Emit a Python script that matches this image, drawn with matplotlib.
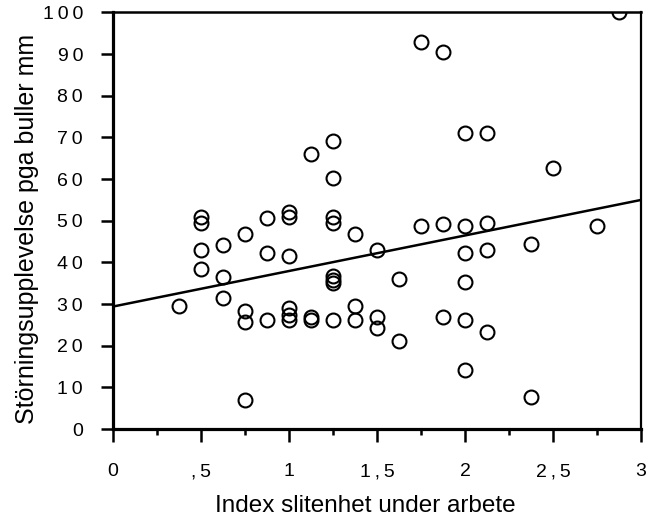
import matplotlib
matplotlib.use("Agg")
import matplotlib.pyplot as plt
import numpy as np

plt.rcParams['font.family'] = ['Liberation Sans', 'DejaVu Sans']

# index slitenhet (x) och störningsupplevelse (y)
x_vals = [0.375,
          0.5, 0.5, 0.5, 0.5,
          0.625, 0.625, 0.625,
          0.75, 0.75, 0.75, 0.75,
          0.875, 0.875, 0.875,
          1.0, 1.0, 1.0, 1.0, 1.0, 1.0,
          1.125, 1.125, 1.125,
          1.25, 1.25, 1.25, 1.25, 1.25, 1.25, 1.25, 1.25,
          1.375, 1.375, 1.375,
          1.5, 1.5, 1.5,
          1.625, 1.625,
          1.75, 1.75,
          1.875, 1.875, 1.875,
          2.0, 2.0, 2.0, 2.0, 2.0, 2.0,
          2.125, 2.125, 2.125, 2.125,
          2.375, 2.375,
          2.5,
          2.75,
          2.875]
y_vals = [29.5,
          50.8, 49.5, 43.0, 38.4,
          44.2, 36.6, 31.4,
          46.7, 28.3, 25.6, 7.0,
          50.6, 42.3, 26.2,
          52.2, 51.0, 41.6, 29.0, 27.4, 26.2,
          66.0, 27.0, 26.2,
          69.1, 60.2, 51.0, 49.5, 36.7, 35.8, 35.1, 26.2,
          46.7, 29.5, 26.2,
          43.0, 27.0, 24.3,
          35.9, 21.2,
          93.0, 48.7,
          90.4, 49.2, 27.0,
          71.0, 48.7, 42.3, 35.2, 26.2, 14.2,
          71.0, 49.4, 43.0, 23.2,
          44.3, 7.8,
          62.6,
          48.7,
          100.0]

# regressionslinje
intercept = 29.4
slope = 8.53

x_ticks = [0, 0.5, 1, 1.5, 2, 2.5, 3]
x_ticklabels = ["0", ",5", "1", "1,5", "2", "2,5", "3"]
y_ticks = list(range(0, 101, 10))

# glest teckenavstånd som i originalet
sp = "\u2009"
x_ticklabels = [sp.join(t) for t in x_ticklabels]
y_ticklabels = [sp.join(str(v)) for v in y_ticks]

fig = plt.figure(figsize=(6.47, 5.19), dpi=100)
ax = fig.add_axes([0.1747, 0.1734, 0.816, 0.8026])

ax.plot(x_vals, y_vals, linestyle='none', marker='o', markersize=10,
        markerfacecolor='none', markeredgecolor='black', markeredgewidth=1.5)

xl = np.array([0, 3])
ax.plot(xl, intercept + slope * xl, color='black', linewidth=1.8)

ax.set_xlim(0, 3)
ax.set_ylim(0, 100)
ax.set_xticks(x_ticks)
ax.set_xticklabels(x_ticklabels)
ax.set_xticks(np.arange(0.25, 3, 0.5), minor=True)
ax.set_yticks(y_ticks)
ax.set_yticklabels(y_ticklabels)

ax.tick_params(axis='both', which='major', length=9, width=1.8,
               labelsize=14, direction='out')
ax.tick_params(axis='x', which='major', pad=15.5)
ax.tick_params(axis='x', which='minor', length=4.5, width=1.8, direction='out')
ax.tick_params(axis='y', pad=12.6)
ax.spines['left'].set_linewidth(2.3)
ax.spines['bottom'].set_linewidth(2.3)
ax.spines['top'].set_linewidth(1.8)
ax.spines['right'].set_linewidth(1.6)

ax.set_xlabel("Index slitenhet under arbete", fontsize=17.5, labelpad=10.5)
ax.set_ylabel("Störningsupplevelse pga buller mm", fontsize=18, labelpad=2.7)
ax.xaxis.label.set_x(0.478)
ax.yaxis.label.set_y(0.48)

fig.savefig("out.png", dpi=100)
